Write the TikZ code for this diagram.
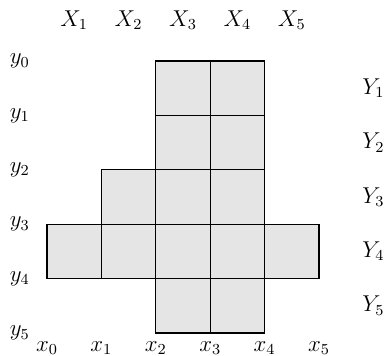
\documentclass[tikz,border=0pt]{standalone}
\begin{document}
\begin{tikzpicture}[
  cell/.style={draw=black, fill=black!10, line width=0.6pt},
  lab/.style={inner sep=0pt, anchor=center, font=\large}
]
\useasboundingbox (-0.864,-0.423) rectangle (6.232,6.121);
% cells: row r between y_{r-1} and y_r, top line y0 at height 5
\foreach \c in {2,3} \draw[cell] (\c,4) rectangle ++(1,1);
\foreach \c in {2,3} \draw[cell] (\c,3) rectangle ++(1,1);
\foreach \c in {1,2,3} \draw[cell] (\c,2) rectangle ++(1,1);
\foreach \c in {0,1,2,3,4} \draw[cell] (\c,1) rectangle ++(1,1);
\foreach \c in {2,3} \draw[cell] (\c,0) rectangle ++(1,1);
% labels
\foreach \i in {1,...,5} \node[lab] (X\i) at (\i-0.5,5.75) {$X_{\i}$};
\foreach \i in {0,...,5} \node[lab] (y\i) at (-0.5,5-\i) {$y_{\i}$};
\foreach \i in {1,...,5} \node[lab] (Y\i) at (6,5.5-\i) {$Y_{\i}$};
\foreach \i in {0,...,5} \node[lab] (x\i) at (\i,-0.28) {$x_{\i}$};
\end{tikzpicture}
\end{document}
